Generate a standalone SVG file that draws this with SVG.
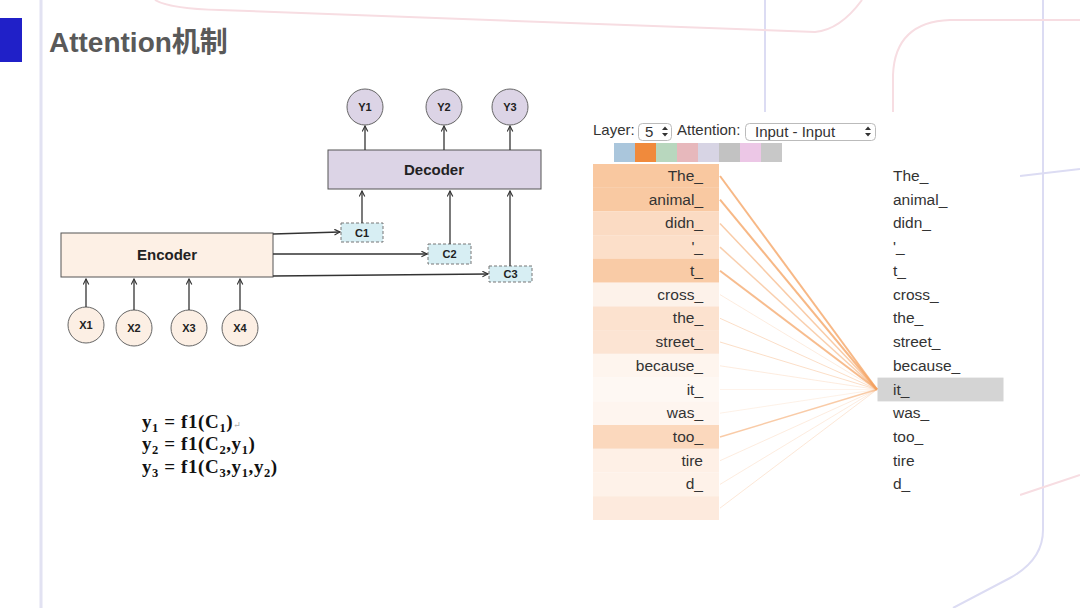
<svg xmlns="http://www.w3.org/2000/svg" width="1080" height="608" viewBox="0 0 1080 608">
<defs>
<marker id="arr" viewBox="0 0 10 10" refX="9" refY="5" markerWidth="7" markerHeight="7" markerUnits="userSpaceOnUse" orient="auto">
<path d="M1,1 L9,5 L1,9" fill="none" stroke="#333" stroke-width="1.6"/>
</marker>
<style>
.bgl{fill:none;stroke:#dcdcf3;stroke-width:2}
.bgp{fill:none;stroke:#f7dde2;stroke-width:2}
.box{stroke:#555;stroke-width:1}
.circ{stroke:#666;stroke-width:1}
.lbl{font-family:"Liberation Sans","Noto Sans",sans-serif;font-weight:bold;fill:#222;text-anchor:middle}
.cn{stroke:#333;stroke-width:1.3;fill:none;marker-end:url(#arr)}
.cbox{fill:#d7eef3;stroke:#777;stroke-width:1;stroke-dasharray:3 2}
.fm{font-family:"Liberation Serif","DejaVu Serif",serif;font-weight:bold;font-size:19px;letter-spacing:0.6px;fill:#111}
.tk{font-family:"Liberation Sans",Arial,sans-serif;font-size:15.5px;fill:#333}
.tkl{text-anchor:end}
.ui{font-family:"Liberation Sans",Arial,sans-serif;font-size:15px;fill:#333}
.sel{fill:#fff;stroke:#bbb;stroke-width:1}
.att{stroke:#f4a05e;fill:none}
</style>
</defs>
<rect width="1080" height="608" fill="#fff"/>
<g id="background">
<line x1="41" y1="0" x2="41" y2="608" stroke="#e2e2f2" stroke-width="3"/>
<line class="bgl" x1="765" y1="0" x2="765" y2="112"/>
<path class="bgl" d="M1043,0 L1043,530 Q1043,560 1010,578 L953,608"/>
<line class="bgl" x1="1020" y1="176" x2="1080" y2="169"/>
<path class="bgp" d="M155,0 Q170,9 220,10 L815,32 Q840,30 862,0"/>
<path class="bgp" d="M893,112 L893,75 Q895,22 950,20 L1080,20"/>
<line class="bgp" x1="1020" y1="495" x2="1080" y2="475"/>
<rect x="0" y="18" width="22" height="44" fill="#2020c8"/>
</g>
<g id="title">
<text x="49" y="52" font-family="Liberation Sans,Noto Sans CJK SC,sans-serif" font-weight="bold" font-size="28" fill="#595959">Attention<tspan font-family="Noto Sans CJK SC,sans-serif">机制</tspan></text>
</g>
<g id="encoder">
<rect class="box" x="61" y="233" width="212" height="44" fill="#fdf0e5"/>
<text class="lbl" x="167" y="259.5" font-size="15">Encoder</text>
</g>
<g id="decoder">
<rect class="box" x="328" y="150" width="213" height="39" fill="#dcd4e6"/>
<text class="lbl" x="434" y="174.5" font-size="15">Decoder</text>
</g>
<g id="x1"><circle class="circ" cx="86" cy="325" r="18" fill="#fcefe4"/><text class="lbl" x="86" y="329" font-size="11">X1</text></g>
<g id="x2"><circle class="circ" cx="134" cy="328" r="18" fill="#fcefe4"/><text class="lbl" x="134" y="332" font-size="11">X2</text></g>
<g id="x3"><circle class="circ" cx="189" cy="328" r="18" fill="#fcefe4"/><text class="lbl" x="189" y="332" font-size="11">X3</text></g>
<g id="x4"><circle class="circ" cx="240" cy="328" r="18" fill="#fcefe4"/><text class="lbl" x="240" y="332" font-size="11">X4</text></g>
<g id="y1"><circle class="circ" cx="365" cy="107" r="18" fill="#dcd4e6"/><text class="lbl" x="365" y="111" font-size="11">Y1</text></g>
<g id="y2"><circle class="circ" cx="444" cy="107" r="18" fill="#dcd4e6"/><text class="lbl" x="444" y="111" font-size="11">Y2</text></g>
<g id="y3"><circle class="circ" cx="510" cy="107" r="18" fill="#dcd4e6"/><text class="lbl" x="510" y="111" font-size="11">Y3</text></g>
<g id="c1"><rect class="cbox" x="341" y="223" width="42" height="19"/><text class="lbl" x="362" y="236.5" font-size="11">C1</text></g>
<g id="c2"><rect class="cbox" x="428" y="244" width="43" height="20"/><text class="lbl" x="449.5" y="258" font-size="11">C2</text></g>
<g id="c3"><rect class="cbox" x="489" y="266" width="43" height="16"/><text class="lbl" x="510.5" y="278" font-size="11">C3</text></g>
<g id="connectors">
<line class="cn" x1="86" y1="307" x2="86" y2="279"/>
<line class="cn" x1="134" y1="310" x2="134" y2="279"/>
<line class="cn" x1="189" y1="310" x2="189" y2="279"/>
<line class="cn" x1="240" y1="310" x2="240" y2="279"/>
<line class="cn" x1="273" y1="234" x2="340" y2="232"/>
<line class="cn" x1="273" y1="254" x2="427" y2="254"/>
<line class="cn" x1="273" y1="276" x2="488" y2="274"/>
<line class="cn" x1="362" y1="223" x2="362" y2="191"/>
<line class="cn" x1="450" y1="244" x2="450" y2="191"/>
<line class="cn" x1="510" y1="266" x2="510" y2="191"/>
<line class="cn" x1="365" y1="150" x2="365" y2="126"/>
<line class="cn" x1="444" y1="150" x2="444" y2="126"/>
<line class="cn" x1="510" y1="150" x2="510" y2="126"/>
</g>
<g id="formulas">
<text class="fm" x="142" y="428">y<tspan font-size="12.5" dy="4">1</tspan><tspan dy="-4"> = f1(C</tspan><tspan font-size="12.5" dy="4">1</tspan><tspan dy="-4">)</tspan><tspan font-size="9" font-weight="normal" fill="#aaa">↵</tspan></text>
<text class="fm" x="142" y="450">y<tspan font-size="12.5" dy="4">2</tspan><tspan dy="-4"> = f1(C</tspan><tspan font-size="12.5" dy="4">2</tspan><tspan dy="-4">,y</tspan><tspan font-size="12.5" dy="4">1</tspan><tspan dy="-4">)</tspan></text>
<text class="fm" x="142" y="473">y<tspan font-size="12.5" dy="4">3</tspan><tspan dy="-4"> = f1(C</tspan><tspan font-size="12.5" dy="4">3</tspan><tspan dy="-4">,y</tspan><tspan font-size="12.5" dy="4">1</tspan><tspan dy="-4">,y</tspan><tspan font-size="12.5" dy="4">2</tspan><tspan dy="-4">)</tspan></text>
</g>
<g id="attention-panel">
<rect x="590" y="112" width="430" height="413" fill="#fff"/>
<text class="ui" x="593" y="135">Layer:</text>
<rect class="sel" x="638.5" y="123.5" width="33" height="17" rx="4"/>
<text class="ui" x="645" y="137">5</text>
<path d="M662,130 L665,126.5 L668,130 Z M662,133 L665,136.5 L668,133 Z" fill="#333"/>
<text class="ui" x="677" y="135">Attention:</text>
<rect class="sel" x="745.5" y="123.5" width="130" height="17" rx="4"/>
<text class="ui" x="755" y="137">Input - Input</text>
<path d="M865,130 L868,126.5 L871,130 Z M865,133 L868,136.5 L871,133 Z" fill="#333"/>
<rect x="614" y="143" width="21" height="19" fill="#aac6dc"/>
<rect x="635" y="143" width="21" height="19" fill="#f08a3c"/>
<rect x="656" y="143" width="21" height="19" fill="#b8d7be"/>
<rect x="677" y="143" width="21" height="19" fill="#e7b8bc"/>
<rect x="698" y="143" width="21" height="19" fill="#d7d4e4"/>
<rect x="719" y="143" width="21" height="19" fill="#c2c2c2"/>
<rect x="740" y="143" width="21" height="19" fill="#ecc7e6"/>
<rect x="761" y="143" width="21" height="19" fill="#c8c8c8"/>
<g id="left-tokens">
<rect x="593" y="164" width="126" height="23.8" fill="#f9c8a0"/>
<rect x="593" y="187.7" width="126" height="23.8" fill="#f9c9a2"/>
<rect x="593" y="211.5" width="126" height="23.8" fill="#fbdbc3"/>
<rect x="593" y="235.2" width="126" height="23.8" fill="#fcdfc9"/>
<rect x="593" y="258.9" width="126" height="23.8" fill="#f9cba6"/>
<rect x="593" y="282.7" width="126" height="23.8" fill="#fdf2ea"/>
<rect x="593" y="306.4" width="126" height="23.8" fill="#fce2cf"/>
<rect x="593" y="330.1" width="126" height="23.8" fill="#fce4d3"/>
<rect x="593" y="353.8" width="126" height="23.8" fill="#fef5ee"/>
<rect x="593" y="377.6" width="126" height="23.8" fill="#fef8f3"/>
<rect x="593" y="401.3" width="126" height="23.8" fill="#fef5ef"/>
<rect x="593" y="425" width="126" height="23.8" fill="#fbd8bd"/>
<rect x="593" y="448.8" width="126" height="23.8" fill="#fef0e6"/>
<rect x="593" y="472.5" width="126" height="23.8" fill="#fef2e9"/>
<rect x="593" y="496.2" width="126" height="23.8" fill="#fdeadd"/>
<text class="tk tkl" x="703" y="181">The_</text>
<text class="tk tkl" x="703" y="204.7">animal_</text>
<text class="tk tkl" x="703" y="228.4">didn_</text>
<text class="tk tkl" x="703" y="252.1">'_</text>
<text class="tk tkl" x="703" y="275.8">t_</text>
<text class="tk tkl" x="703" y="299.6">cross_</text>
<text class="tk tkl" x="703" y="323.3">the_</text>
<text class="tk tkl" x="703" y="347">street_</text>
<text class="tk tkl" x="703" y="370.8">because_</text>
<text class="tk tkl" x="703" y="394.5">it_</text>
<text class="tk tkl" x="703" y="418.2">was_</text>
<text class="tk tkl" x="703" y="442">too_</text>
<text class="tk tkl" x="703" y="465.7">tire</text>
<text class="tk tkl" x="703" y="489.4">d_</text>
</g>
<g id="right-tokens">
<rect x="877.5" y="377.6" width="126" height="23.8" fill="#d4d4d4"/>
<text class="tk" x="893" y="181">The_</text>
<text class="tk" x="893" y="204.7">animal_</text>
<text class="tk" x="893" y="228.4">didn_</text>
<text class="tk" x="893" y="252.1">'_</text>
<text class="tk" x="893" y="275.8">t_</text>
<text class="tk" x="893" y="299.6">cross_</text>
<text class="tk" x="893" y="323.3">the_</text>
<text class="tk" x="893" y="347">street_</text>
<text class="tk" x="893" y="370.8">because_</text>
<text class="tk" x="893" y="394.5">it_</text>
<text class="tk" x="893" y="418.2">was_</text>
<text class="tk" x="893" y="442">too_</text>
<text class="tk" x="893" y="465.7">tire</text>
<text class="tk" x="893" y="489.4">d_</text>
</g>
<g id="attention-lines">
<line class="att" x1="720" y1="176" x2="877" y2="389.5" stroke-width="2" opacity="0.75"/>
<line class="att" x1="720" y1="199.6" x2="877" y2="389.5" stroke-width="2" opacity="0.75"/>
<line class="att" x1="720" y1="223.4" x2="877" y2="389.5" stroke-width="1.5" opacity="0.55"/>
<line class="att" x1="720" y1="247.1" x2="877" y2="389.5" stroke-width="1.5" opacity="0.5"/>
<line class="att" x1="720" y1="270.8" x2="877" y2="389.5" stroke-width="2" opacity="0.7"/>
<line class="att" x1="720" y1="294.6" x2="877" y2="389.5" stroke-width="1" opacity="0.2"/>
<line class="att" x1="720" y1="318.3" x2="877" y2="389.5" stroke-width="1" opacity="0.35"/>
<line class="att" x1="720" y1="342" x2="877" y2="389.5" stroke-width="1" opacity="0.35"/>
<line class="att" x1="720" y1="365.8" x2="877" y2="389.5" stroke-width="1" opacity="0.2"/>
<line class="att" x1="720" y1="389.5" x2="877" y2="389.5" stroke-width="1" opacity="0.12"/>
<line class="att" x1="720" y1="413.2" x2="877" y2="389.5" stroke-width="1" opacity="0.15"/>
<line class="att" x1="720" y1="437" x2="877" y2="389.5" stroke-width="1.5" opacity="0.55"/>
<line class="att" x1="720" y1="460.7" x2="877" y2="389.5" stroke-width="1" opacity="0.2"/>
<line class="att" x1="720" y1="484.4" x2="877" y2="389.5" stroke-width="1" opacity="0.2"/>
<line class="att" x1="720" y1="508.1" x2="877" y2="389.5" stroke-width="1" opacity="0.25"/>
</g>
</g>
</svg>
